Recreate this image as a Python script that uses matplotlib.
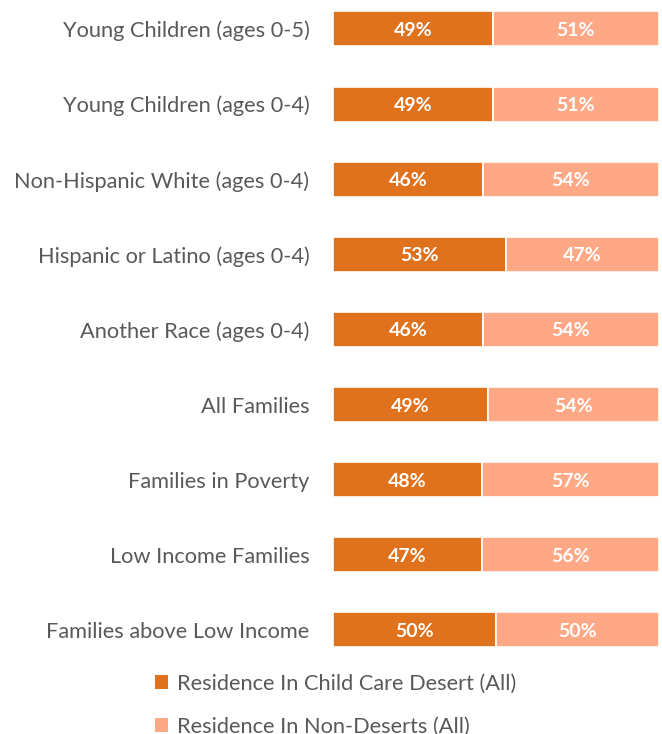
import numpy as np
import matplotlib.pyplot as plt
from matplotlib.patches import Patch

# Share of each group living in child care deserts vs non-deserts
groups = [
    'Young Children (ages 0-5)',
    'Young Children (ages 0-4)',
    'Non-Hispanic White (ages 0-4)',
    'Hispanic or Latino (ages 0-4)',
    'Another Race (ages 0-4)',
    'All Families',
    'Families in Poverty',
    'Low Income Families',
    'Families above Low Income',
]
desert = [49, 49, 46, 53, 46, 49, 48, 47, 50]
non_desert = [51, 51, 54, 47, 54, 54, 57, 56, 50]
series_names = ['Residence In Child Care Desert (All)', 'Residence In Non-Deserts (All)']

c_desert = '#E0711D'
c_non = '#FFA886'
txt_grey = '#595959'

plt.rcParams['font.family'] = ['Lato', 'DejaVu Sans']

fig = plt.figure(figsize=(6.62, 7.34), dpi=100)
ax = fig.add_axes([333 / 662, (734 - 667.5) / 734, 326 / 662, 667.5 / 734])

d = np.array(desert, dtype=float)
n = np.array(non_desert, dtype=float)
tot = d + n
d_share = d / tot
n_share = n / tot
y = np.arange(len(groups))
h = 0.466

ax.barh(y, d_share, height=h, color=c_desert, edgecolor='white', linewidth=1.2)
ax.barh(y, n_share, left=d_share, height=h, color=c_non, edgecolor='white', linewidth=1.2)

for i in range(len(groups)):
    ax.text(d_share[i] / 2, y[i], f'{desert[i]}%', ha='center', va='center_baseline',
            color='white', fontsize=14, fontweight='bold')
    ax.text(d_share[i] + n_share[i] / 2, y[i], f'{non_desert[i]}%', ha='center',
            va='center_baseline', color='white', fontsize=14, fontweight='bold')

ax.set_xlim(0, 1)
ax.set_ylim(8.5, -0.386)
ax.set_yticks(y)
ax.set_yticklabels(groups, fontsize=15.7, color=txt_grey)
ax.tick_params(axis='y', length=0, pad=17)
ax.set_xticks([])
for s in ax.spines.values():
    s.set_visible(False)

handles = [Patch(facecolor=c_desert, label=series_names[0]),
           Patch(facecolor=c_non, label=series_names[1])]
leg = fig.legend(handles=handles, loc='upper left', bbox_to_anchor=(155 / 662, 1 - 674 / 734),
                 frameon=False, fontsize=15.7, handlelength=0.6, handleheight=0.6,
                 handletextpad=0.4, labelspacing=1.05, borderpad=0, borderaxespad=0)
for t in leg.get_texts():
    t.set_color(txt_grey)

fig.savefig('out.png', dpi=100)
